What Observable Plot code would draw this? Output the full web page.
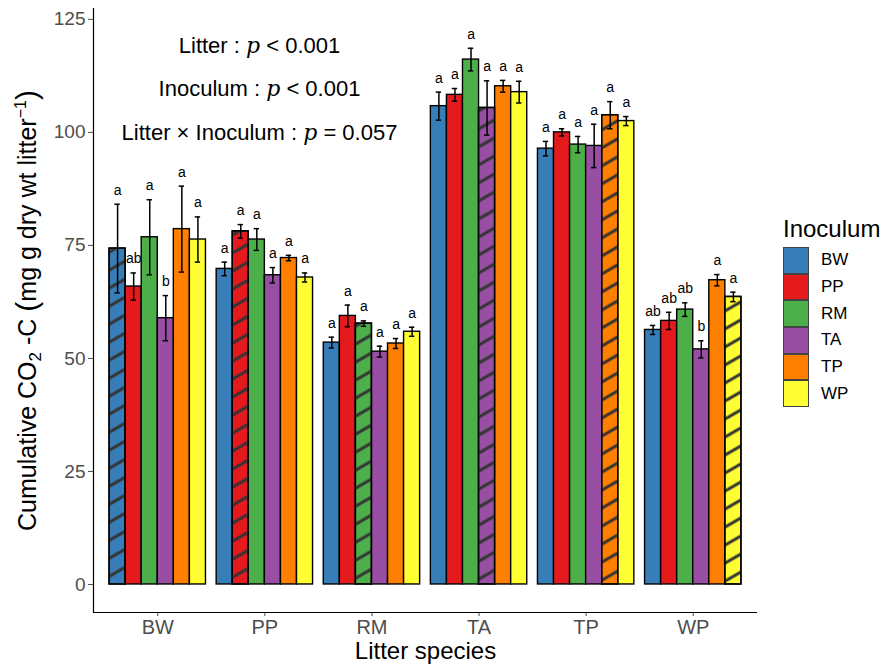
<!DOCTYPE html>
<html>
<head>
<meta charset="utf-8">
<script src="https://cdn.jsdelivr.net/npm/d3@7"></script>
<script src="https://cdn.jsdelivr.net/npm/@observablehq/plot@0.6"></script>
<style>
  body { margin: 0; background: #fff; font-family: "Liberation Sans", Arial, sans-serif; }
  #wrap { position: relative; width: 885px; height: 667px; overflow: hidden; }
  #legend { position: absolute; left: 783px; top: 214px; color: #000; }
  #legend .ltitle { font-size: 24px; line-height: 30px; margin-bottom: 3px; }
  #legend .item { display: flex; align-items: center; height: 26.7px; }
  #legend .key { width: 26px; height: 26.7px; box-sizing: border-box; border: 0.8px solid #444; }
  #legend .lab { font-size: 17px; margin-left: 12px; }
</style>
</head>
<body>
<div id="wrap"></div>
<script>
// ---- data ----
const litters = ["BW", "PP", "RM", "TA", "TP", "WP"];
const inocula = ["BW", "PP", "RM", "TA", "TP", "WP"];
// rows: litter species; columns: inoculum
const means = [
  [74.3, 65.9, 76.8, 58.9, 78.6, 76.3],
  [69.8, 78.1, 76.3, 68.4, 72.2, 67.9],
  [53.5, 59.4, 57.7, 51.5, 53.3, 55.9],
  [105.8, 108.3, 116.1, 105.4, 110.2, 108.9],
  [96.4, 100.0, 97.3, 97.0, 103.8, 102.5],
  [56.3, 58.3, 60.8, 52.0, 67.3, 63.6]
];
const ses = [
  [9.8, 3.0, 8.3, 5.0, 9.5, 5.0],
  [1.5, 1.5, 2.4, 1.7, 0.6, 1.0],
  [1.2, 2.4, 0.6, 1.2, 1.1, 1.0],
  [3.1, 1.4, 2.5, 6.0, 1.3, 2.4],
  [1.6, 0.8, 1.8, 4.8, 3.0, 1.0],
  [1.0, 1.9, 1.5, 1.9, 1.25, 1.05]
];
const letters = [
  ["a", "ab", "a", "b", "a", "a"],
  ["a", "a", "a", "a", "a", "a"],
  ["a", "a", "a", "a", "a", "a"],
  ["a", "a", "a", "a", "a", "a"],
  ["a", "a", "a", "a", "a", "a"],
  ["ab", "ab", "ab", "b", "a", "a"]
];
const yTicks = [0, 25, 50, 75, 100, 125];
const annotTerms = ["Litter", "Inoculum", "Litter \u00d7 Inoculum"];
const annotOps = ["<", "<", "="];
const annotP = ["0.001", "0.001", "0.057"];
const annotY = [119.2, 109.5, 99.8];
const annotX = 1.95;

// ---- styles ----
const palette = ["#377EB8", "#E41A1C", "#4DAF4A", "#984EA3", "#FF7F00", "#FFFF33"];
const dodge = 0.9;
const barW = dodge / inocula.length;
const capHalf = 0.025;
const yDomain = [-6.2, 127.4];
const xDomain = [0.4, 6.6];
const FONT = "'Liberation Sans', Arial, sans-serif";

// ---- table ----
const rows = [];
litters.forEach((L, i) => inocula.forEach((I, j) => {
  rows.push({litter: L, inoc: I, g: i + 1, j, mean: means[i][j], se: ses[i][j],
             letter: letters[i][j], hatched: L === I});
}));
const X1 = d => d.g - dodge / 2 + d.j * barW;
const X2 = d => X1(d) + barW;
const XC = d => X1(d) + barW / 2;
const annots = annotTerms.map((t, k) => ({text: `${t} : p ${annotOps[k]} ${annotP[k]}`, y: annotY[k], term: t, op: annotOps[k], p: annotP[k]}));

const yLabel = "Cumulative CO2 -C (mg g dry wt litter-1)";

const svg = Plot.plot({
  width: 885, height: 667,
  marginLeft: 93, marginRight: 128, marginTop: 8, marginBottom: 55,
  style: {fontFamily: FONT, background: "white", overflow: "visible"},
  x: {domain: xDomain},
  y: {domain: yDomain},
  color: {domain: inocula, range: palette},
  marks: [
    Plot.rect(rows, {x1: X1, x2: X2, y1: 0, y2: "mean", fill: "inoc", stroke: "black", strokeWidth: 1.4}),
    Plot.rect(rows.filter(d => d.hatched), {x1: X1, x2: X2, y1: 0, y2: "mean", fill: "url(#hatch)", stroke: "black", strokeWidth: 1.4}),
    Plot.ruleX(rows, {x: XC, y1: d => d.mean - d.se, y2: d => d.mean + d.se, stroke: "black", strokeWidth: 1.5}),
    Plot.ruleY(rows, {y: d => d.mean + d.se, x1: d => XC(d) - capHalf, x2: d => XC(d) + capHalf, stroke: "black", strokeWidth: 1.5}),
    Plot.ruleY(rows, {y: d => d.mean - d.se, x1: d => XC(d) - capHalf, x2: d => XC(d) + capHalf, stroke: "black", strokeWidth: 1.5}),
    Plot.text(rows, {x: XC, y: d => d.mean + d.se, text: "letter", dy: -14, fontSize: 14, fill: "black"}),
    Plot.text(annots, {x: () => annotX, y: "y", text: "text", fontSize: 22, fill: "black"}),
    Plot.axisY({ticks: yTicks, tickSize: 5, tickPadding: 3, fontSize: 19, color: "#4d4d4d",
                label: yLabel, labelAnchor: "center", labelOffset: 75}),
    Plot.axisX({ticks: [1, 2, 3, 4, 5, 6], tickFormat: d => litters[d - 1], tickSize: 4, tickPadding: 3,
                fontSize: 20, color: "#4d4d4d", label: "Litter species", labelAnchor: "center", labelOffset: 46}),
    Plot.ruleY([yDomain[0]], {stroke: "black", strokeWidth: 1.2}),
    Plot.ruleX([xDomain[0]], {stroke: "black", strokeWidth: 1.2})
  ]
});

// hatch pattern
const defs = d3.select(svg).insert("defs", ":first-child");
const pat = defs.append("pattern").attr("id", "hatch").attr("patternUnits", "userSpaceOnUse")
  .attr("width", 12).attr("height", 15.6).attr("patternTransform", "rotate(-30)");
pat.append("line").attr("x1", -1).attr("x2", 13).attr("y1", 7.8).attr("y2", 7.8)
  .attr("stroke", "#333").attr("stroke-width", 3);

const NS = "http://www.w3.org/2000/svg";
function tspan(parent, txt, attrs) {
  const t = document.createElementNS(NS, "tspan");
  t.textContent = txt;
  for (const k in (attrs || {})) t.setAttribute(k, attrs[k]);
  parent.appendChild(t);
  return t;
}
svg.querySelectorAll("text").forEach(t => {
  const s = t.textContent;
  const a = annots.find(d => d.text === s);
  if (a) {
    while (t.firstChild) t.removeChild(t.firstChild);
    tspan(t, a.term + " : ");
    tspan(t, "p", {"font-style": "italic", "font-family": "'DejaVu Serif', serif"});
    tspan(t, " " + (a.op === "<" ? "<" : "=") + " " + a.p);
  } else if (s.startsWith("Cumulative")) {
    while (t.firstChild) t.removeChild(t.firstChild);
    t.setAttribute("fill", "black");
    t.setAttribute("font-size", 25);
    tspan(t, "Cumulative CO");
    tspan(t, "2", {"font-size": "17", dy: "5"});
    tspan(t, " -C ", {dy: "-5"});
    tspan(t, "(", {"font-size": "30", dy: "1"});
    tspan(t, "mg g dry wt litter", {dy: "-1"});
    tspan(t, "\u22121", {"font-size": "16", dy: "-10"});
    tspan(t, ")", {"font-size": "30", dy: "11"});
  } else if (s.startsWith("Litter species")) {
    t.textContent = "Litter species";
    t.setAttribute("fill", "black");
    t.setAttribute("font-size", 24);
  }
});

const wrap = document.getElementById("wrap");
wrap.appendChild(svg);

// legend built from the same inoculum list and palette as the colour scale
const legend = document.createElement("div");
legend.id = "legend";
legend.innerHTML = `<div class="ltitle">Inoculum</div>` +
  inocula.map((k, i) => `<div class="item"><div class="key" style="background:${palette[i]}"></div><div class="lab">${k}</div></div>`).join("");
wrap.appendChild(legend);
</script>
</body>
</html>
